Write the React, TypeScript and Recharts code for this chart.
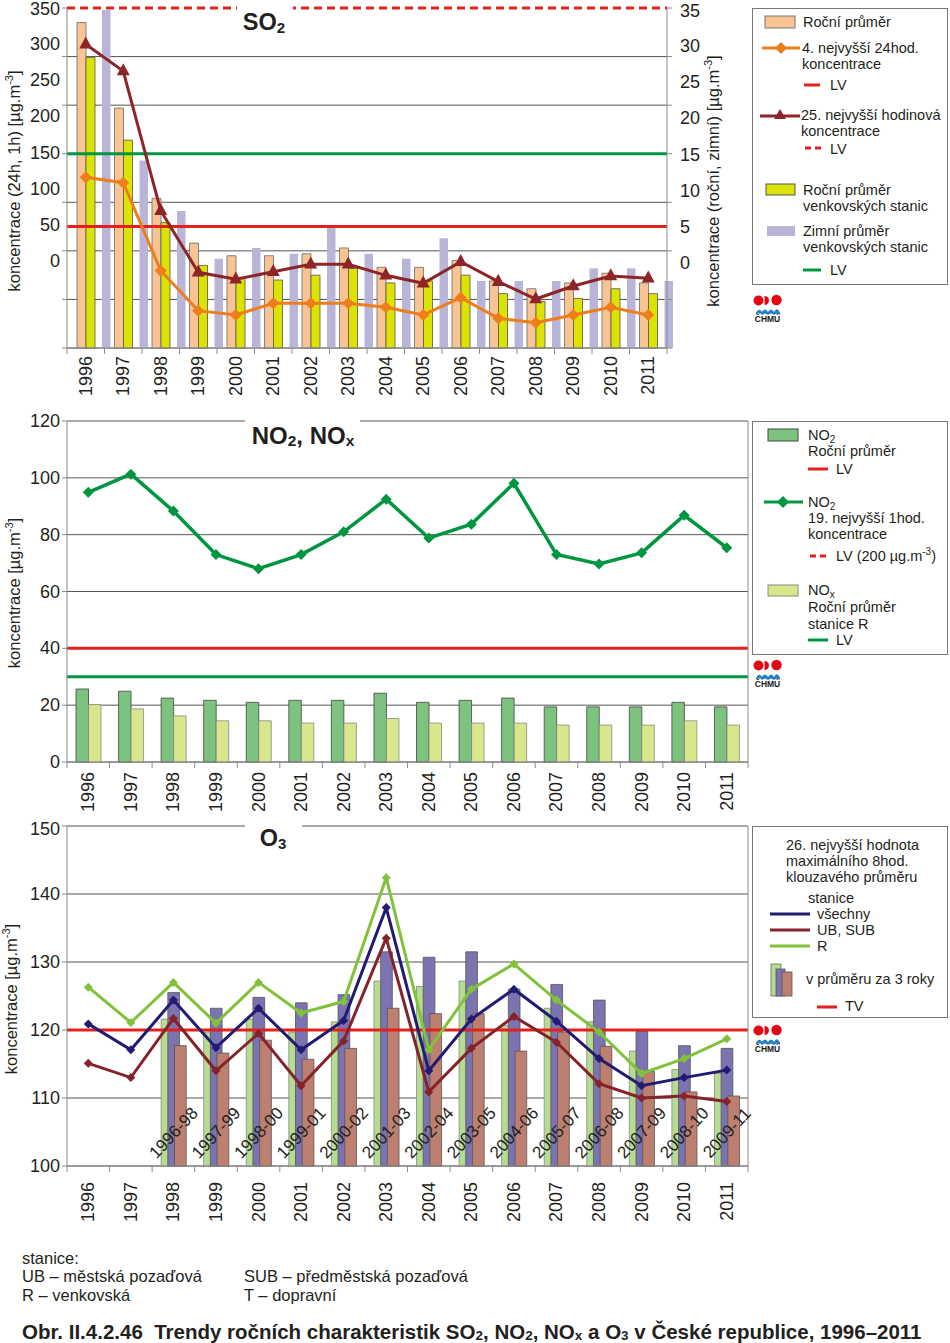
import React from "react";
import {
  ComposedChart,
  Bar,
  Line,
  XAxis,
  YAxis,
  CartesianGrid,
  ReferenceLine,
  LabelList,
} from "recharts";

// ---- data ----
const years = [
  "1996", "1997", "1998", "1999", "2000", "2001", "2002", "2003",
  "2004", "2005", "2006", "2007", "2008", "2009", "2010", "2011",
];

// SO2, right axis (annual / winter means)
const so2Annual = [33.5, 24.7, 15.4, 10.8, 9.5, 9.5, 9.7, 10.3, 8.3, 8.3, 9.0, 6.9, 6.1, 6.7, 7.7, 6.7];
const so2RuralAnnual = [29.9, 21.4, 12.9, 8.5, 7.2, 7.0, 7.5, 8.2, 6.7, 6.9, 7.5, 5.6, 4.8, 5.1, 6.1, 5.6];
const so2RuralWinter = [34.8, 19.3, 14.1, 9.2, 10.3, 9.7, 12.6, 9.7, 9.2, 11.3, 6.9, 6.9, 6.9, 8.2, 8.2, 6.9];
// SO2, left axis
const so2Max24h = [175.7, 170.2, 79.6, 38.4, 34.0, 46.0, 46.0, 46.0, 41.9, 34.0, 51.8, 30.6, 26.0, 34.0, 41.9, 34.0];
const so2Max1h = [312.6, 285.1, 141.3, 77.9, 70.7, 78.5, 86.2, 86.2, 74.8, 66.6, 88.8, 68.3, 50.4, 63.8, 74.1, 71.7];
const so2LeftTicks = [0, 50, 100, 150, 200, 250, 300, 350];
const so2RightTicks = [0, 5, 10, 15, 20, 25, 30, 35];

// NO2 / NOx
const no2Annual = [25.7, 24.9, 22.5, 21.7, 21.0, 21.7, 21.7, 24.2, 21.0, 21.7, 22.5, 19.4, 19.4, 19.4, 21.0, 19.4];
const noxRural = [20.2, 18.7, 16.2, 14.5, 14.5, 13.7, 13.7, 15.3, 13.7, 13.7, 13.7, 13.0, 13.0, 13.0, 14.5, 13.0];
const no2Max1h = [94.9, 101.3, 88.3, 73.0, 68.0, 73.0, 81.0, 92.5, 78.8, 83.7, 98.1, 73.0, 69.7, 73.6, 86.8, 75.4];
const no2Ticks = [0, 20, 40, 60, 80, 100, 120];

// O3
const o3All = [120.9, 117.1, 124.4, 117.4, 123.2, 117.1, 121.4, 138.0, 114.0, 121.6, 126.0, 121.3, 115.8, 111.8, 113.0, 114.1];
const o3Urban = [115.1, 113.0, 121.7, 114.0, 119.5, 111.8, 118.4, 133.5, 110.9, 117.3, 122.0, 118.2, 112.1, 110.0, 110.3, 109.5];
const o3Rural = [126.3, 121.1, 127.0, 121.0, 127.0, 122.5, 124.2, 142.4, 117.1, 126.0, 129.7, 124.4, 119.7, 113.6, 115.8, 118.7];
const o3Periods = [
  null, null, "1996-98", "1997-99", "1998-00", "1999-01", "2000-02", "2001-03",
  "2002-04", "2003-05", "2004-06", "2005-07", "2006-08", "2007-09", "2008-10", "2009-11",
];
const o3RuralAvg3 = [null, null, 121.6, 119.7, 121.6, 119.7, 121.2, 127.2, 126.4, 127.2, 120.7, 123.2, 121.2, 116.9, 114.2, 113.6];
const o3AllAvg3 = [null, null, 125.5, 123.2, 124.8, 124.0, 125.2, 131.5, 130.7, 131.5, 126.0, 126.7, 124.4, 119.8, 117.7, 117.3];
const o3UrbanAvg3 = [null, null, 117.7, 116.6, 118.5, 115.7, 117.3, 123.2, 122.4, 122.4, 116.9, 119.7, 117.6, 113.9, 110.9, 110.3];
const o3Ticks = [100, 110, 120, 130, 140, 150];

const so2Data = years.map((year, i) => ({
  year,
  annual: so2Annual[i],
  ruralAnnual: so2RuralAnnual[i],
  ruralWinter: so2RuralWinter[i],
  max24h: so2Max24h[i],
  max1h: so2Max1h[i],
}));
const no2Data = years.map((year, i) => ({
  year,
  no2: no2Annual[i],
  nox: noxRural[i],
  max1h: no2Max1h[i],
}));
const o3Data = years.map((year, i) => ({
  year,
  all: o3All[i],
  urban: o3Urban[i],
  rural: o3Rural[i],
  period: o3Periods[i],
  ruralAvg: o3RuralAvg3[i],
  allAvg: o3AllAvg3[i],
  urbanAvg: o3UrbanAvg3[i],
}));

// ---- styles ----
const FONT = '"Liberation Sans", Arial, Helvetica, sans-serif';
const INK = "#231f20";
const GRID = "#555";
const AXIS = "#8a8a8a";
const RED = "#e3211c";
const LVGREEN = "#009640";
const PEACH = "#f8c494";
const YELLOW = "#dce300";
const LAVENDER = "#b9b5d9";
const ORANGE = "#ee7d1b";
const DARKRED = "#8c2428";
const NO2GREEN = "#7dc37f";
const NOXLIGHT = "#d9e78c";
const O3GREEN = "#80c23a";
const O3BLUE = "#221b72";
const O3RED = "#85232a";
const O3BAR_G = "#b6dc8f";
const O3BAR_B = "#7b74b0";
const O3BAR_R = "#bd8070";

const SO2_BAND = 600 / 16;
const WIDE_BAND = 681 / 16;
const O3_BAR = 11.7;
const O3_GAP = -5;
// the printed SO2 labels sit on a squeezed copy of the axis
const SQUEEZE = 253 / 340;

function diamondDot(color: string, r: number) {
  return (p: any) => {
    const { cx, cy, index } = p;
    if (cx == null || cy == null || isNaN(cy)) return <g key={`d${index}`} />;
    return (
      <polygon
        key={`d${index}`}
        points={`${cx},${cy - r} ${cx + r},${cy} ${cx},${cy + r} ${cx - r},${cy}`}
        fill={color}
      />
    );
  };
}

function triangleDot(color: string, r: number) {
  return (p: any) => {
    const { cx, cy, index } = p;
    if (cx == null || cy == null) return <g key={`t${index}`} />;
    return (
      <polygon
        key={`t${index}`}
        points={`${cx},${cy - r * 1.2} ${cx + r},${cy + r * 0.65} ${cx - r},${cy + r * 0.65}`}
        fill={color}
      />
    );
  };
}

function SqueezedTick(props: any) {
  const { x, y, payload, textAnchor, top, shift, dx } = props;
  const ly = top + (y - top) * SQUEEZE + shift;
  return (
    <text x={x + dx} y={ly} textAnchor={textAnchor} dominantBaseline="central" fontSize={18} fill={INK} fontFamily={FONT}>
      {payload.value}
    </text>
  );
}

function PlainTick(props: any) {
  const { x, y, payload } = props;
  return (
    <text x={x} y={y} textAnchor="end" dominantBaseline="central" fontSize={18} fill={INK} fontFamily={FONT}>
      {payload.value}
    </text>
  );
}

function YearTick(props: any) {
  const { x, y, payload, index, band, gap } = props;
  const half = band / 2;
  return (
    <g>
      <line x1={x - half} x2={x - half} y1={y} y2={y + 6} stroke={AXIS} />
      {index === years.length - 1 && <line x1={x + half} x2={x + half} y1={y} y2={y + 6} stroke={AXIS} />}
      <text
        transform={`translate(${x},${y + gap}) rotate(-90)`}
        textAnchor="end"
        dominantBaseline="central"
        fontSize={18}
        fill={INK}
        fontFamily={FONT}
      >
        {payload.value}
      </text>
    </g>
  );
}

const periodLabel = (props: any) => {
  const { x, y, width, height, value } = props;
  if (!value || x == null || isNaN(height)) return null;
  // label centred on the middle bar of the group
  const cx = x + width / 2 - (O3_BAR + O3_GAP);
  const cy = y + height - 33;
  return (
    <text
      transform={`translate(${cx},${cy}) rotate(-47)`}
      textAnchor="middle"
      dominantBaseline="central"
      fontSize={17}
      fill={INK}
      fontFamily={FONT}
    >
      {value}
    </text>
  );
};

function So2Chart() {
  return (
    <ComposedChart width={750} height={410} data={so2Data} margin={{ top: 8, right: 0, bottom: 0, left: 0 }} barGap={0}>
      <CartesianGrid xAxisId="m" yAxisId="l" vertical={false} stroke={GRID} />
      <XAxis
        xAxisId="m"
        dataKey="year"
        height={62}
        interval={0}
        tickLine={false}
        tickSize={0}
        tickMargin={0}
        axisLine={{ stroke: AXIS }}
        tick={(p: any) => <YearTick {...p} band={SO2_BAND} gap={8} />}
      />
      <XAxis xAxisId="w" dataKey="year" hide padding={{ left: 20, right: -20 }} />
      <YAxis
        yAxisId="l"
        domain={[0, 350]}
        ticks={so2LeftTicks}
        width={67}
        tickSize={5}
        tickLine={{ stroke: AXIS }}
        axisLine={{ stroke: AXIS }}
        tick={(p: any) => <SqueezedTick {...p} top={8} shift={0} dx={0} />}
      />
      <YAxis
        yAxisId="r"
        orientation="right"
        domain={[0, 35]}
        ticks={so2RightTicks}
        width={83}
        tickSize={5}
        tickLine={{ stroke: AXIS }}
        axisLine={{ stroke: AXIS }}
        tick={(p: any) => <SqueezedTick {...p} top={8} shift={2} dx={6} />}
      />
      <Bar xAxisId="m" yAxisId="r" dataKey="annual" barSize={9} fill={PEACH} stroke="#6b6b6b" strokeWidth={0.8} isAnimationActive={false} />
      <Bar xAxisId="m" yAxisId="r" dataKey="ruralAnnual" barSize={9} fill={YELLOW} stroke="#555" strokeWidth={0.8} isAnimationActive={false} />
      <Bar xAxisId="w" yAxisId="r" dataKey="ruralWinter" barSize={8.5} fill={LAVENDER} isAnimationActive={false} />
      <ReferenceLine xAxisId="m" yAxisId="l" y={350} stroke="#fff" strokeWidth={3} />
      <ReferenceLine xAxisId="m" yAxisId="l" y={350} stroke={RED} strokeWidth={3} strokeDasharray="8 5" />
      <ReferenceLine xAxisId="m" yAxisId="l" y={125} stroke={RED} strokeWidth={3} />
      <ReferenceLine xAxisId="m" yAxisId="r" y={20} stroke={LVGREEN} strokeWidth={3} />
      <Line xAxisId="m" yAxisId="l" dataKey="max24h" stroke={ORANGE} strokeWidth={3} dot={diamondDot(ORANGE, 6)} activeDot={false} isAnimationActive={false} />
      <Line xAxisId="m" yAxisId="l" dataKey="max1h" stroke={DARKRED} strokeWidth={3} dot={triangleDot(DARKRED, 6.5)} activeDot={false} isAnimationActive={false} />
    </ComposedChart>
  );
}

function No2Chart() {
  return (
    <ComposedChart width={750} height={410} data={no2Data} margin={{ top: 11, right: 0, bottom: 0, left: 0 }} barGap={0}>
      <CartesianGrid xAxisId="m" yAxisId="l" vertical={false} stroke={GRID} />
      <XAxis
        xAxisId="m"
        dataKey="year"
        height={58}
        interval={0}
        tickLine={false}
        tickSize={0}
        tickMargin={0}
        axisLine={{ stroke: AXIS }}
        tick={(p: any) => <YearTick {...p} band={WIDE_BAND} gap={10} />}
      />
      <YAxis
        yAxisId="l"
        domain={[0, 120]}
        ticks={no2Ticks}
        width={67}
        tickSize={5}
        tickLine={{ stroke: AXIS }}
        axisLine={{ stroke: AXIS }}
        tick={(p: any) => <PlainTick {...p} />}
      />
      <YAxis yAxisId="r" orientation="right" domain={[0, 1]} width={2} tick={false} tickLine={false} axisLine={{ stroke: AXIS }} />
      <Bar xAxisId="m" yAxisId="l" dataKey="no2" barSize={12.5} fill={NO2GREEN} stroke="#444" strokeWidth={0.8} isAnimationActive={false} />
      <Bar xAxisId="m" yAxisId="l" dataKey="nox" barSize={12.5} fill={NOXLIGHT} stroke="#888" strokeWidth={0.8} isAnimationActive={false} />
      <ReferenceLine xAxisId="m" yAxisId="l" y={40} stroke={RED} strokeWidth={3} />
      <ReferenceLine xAxisId="m" yAxisId="l" y={30} stroke={LVGREEN} strokeWidth={3} />
      <Line xAxisId="m" yAxisId="l" dataKey="max1h" stroke={LVGREEN} strokeWidth={3.5} dot={diamondDot(LVGREEN, 5.5)} activeDot={false} isAnimationActive={false} />
    </ComposedChart>
  );
}

function O3Chart() {
  // 10px extra on the right so the last rotated period label is not clipped
  return (
    <ComposedChart width={760} height={406} data={o3Data} margin={{ top: 6, right: 10, bottom: 0, left: 0 }} barGap={O3_GAP}>
      <CartesianGrid xAxisId="m" yAxisId="l" vertical={false} stroke={GRID} />
      <XAxis
        xAxisId="m"
        dataKey="year"
        height={60}
        interval={0}
        tickLine={false}
        tickSize={0}
        tickMargin={0}
        axisLine={{ stroke: AXIS }}
        tick={(p: any) => <YearTick {...p} band={WIDE_BAND} gap={16} />}
      />
      <YAxis
        yAxisId="l"
        domain={[100, 150]}
        ticks={o3Ticks}
        width={67}
        tickSize={5}
        tickLine={{ stroke: AXIS }}
        axisLine={{ stroke: AXIS }}
        tick={(p: any) => <PlainTick {...p} />}
      />
      <YAxis yAxisId="r" orientation="right" domain={[0, 1]} width={2} tick={false} tickLine={false} axisLine={{ stroke: AXIS }} />
      <Bar xAxisId="m" yAxisId="l" dataKey="ruralAvg" barSize={O3_BAR} fill={O3BAR_G} stroke="#888" strokeWidth={0.8} isAnimationActive={false} />
      <Bar xAxisId="m" yAxisId="l" dataKey="allAvg" barSize={O3_BAR} fill={O3BAR_B} stroke="#555" strokeWidth={0.8} isAnimationActive={false} />
      <Bar xAxisId="m" yAxisId="l" dataKey="urbanAvg" barSize={O3_BAR} fill={O3BAR_R} stroke="#555" strokeWidth={0.8} isAnimationActive={false}>
        <LabelList dataKey="period" content={periodLabel} />
      </Bar>
      <ReferenceLine xAxisId="m" yAxisId="l" y={120} stroke={RED} strokeWidth={3} />
      <Line xAxisId="m" yAxisId="l" dataKey="rural" stroke={O3GREEN} strokeWidth={3} dot={diamondDot(O3GREEN, 4.5)} activeDot={false} isAnimationActive={false} />
      <Line xAxisId="m" yAxisId="l" dataKey="all" stroke={O3BLUE} strokeWidth={3} dot={diamondDot(O3BLUE, 4.5)} activeDot={false} isAnimationActive={false} />
      <Line xAxisId="m" yAxisId="l" dataKey="urban" stroke={O3RED} strokeWidth={3} dot={diamondDot(O3RED, 4.5)} activeDot={false} isAnimationActive={false} />
    </ComposedChart>
  );
}

function Txt({ x, y, size = 14.5, bold = false, children, ...rest }: any) {
  return (
    <text x={x} y={y} fontSize={size} fontWeight={bold ? "bold" : "normal"} dominantBaseline="central" fill={INK} fontFamily={FONT} {...rest}>
      {children}
    </text>
  );
}

function Sub({ children, size = 10, d = 4 }: any) {
  return (
    <tspan dy={d} fontSize={size}>
      {children}
    </tspan>
  );
}

function Logo({ x, y }: { x: number; y: number }) {
  return (
    <g transform={`translate(${x},${y})`}>
      <circle cx={5.5} cy={6.5} r={5} fill="#e30613" />
      <path d="M11.5,2 a4.5,4.5 0 0 1 0,9 z" fill="#e30613" />
      <circle cx={23.5} cy={6} r={5.2} fill="#e30613" />
      <path d="M3,19 q3,-6 6,-1 q3,-5 6,0 q3,-5 6,0 q3,-6 6,1 l0,2 q-3,-3 -6,0 q-3,-3 -6,0 q-3,-3 -6,0 q-3,-4 -6,0 z" fill="#1f7fc2" />
      <text x={14.5} y={28} textAnchor="middle" fontSize={8.5} fontWeight="bold" fill="#1a1a1a" fontFamily={FONT}>
        ČHMÚ
      </text>
    </g>
  );
}

function AxisTitle({ cx, cy, children }: any) {
  return (
    <Txt x={0} y={0} size={16.5} textAnchor="middle" transform={`translate(${cx},${cy}) rotate(-90)`}>
      {children}
      <tspan dy={-5} fontSize={11}>-3</tspan>
      <tspan dy={5}>]</tspan>
    </Txt>
  );
}

function Overlay() {
  return (
    <svg width={950} height={1343} style={{ position: "absolute", left: 0, top: 0, pointerEvents: "none" }}>
      {/* chart titles */}
      <rect x={237} y={0} width={56} height={34} fill="#fff" />
      <Txt x={264} y={22} size={23.5} bold textAnchor="middle">
        SO<Sub size={15} d={5}>2</Sub>
      </Txt>
      <rect x={245} y={413} width={115} height={36} fill="#fff" />
      <Txt x={303} y={435} size={24} bold textAnchor="middle">
        NO<Sub size={15.5} d={5}>2</Sub>
        <tspan dy={-5}>, NO</tspan>
        <Sub size={15.5} d={5}>x</Sub>
      </Txt>
      <rect x={245} y={818} width={57} height={34} fill="#fff" />
      <Txt x={273} y={838} size={23.5} bold textAnchor="middle">
        O<Sub size={15} d={5}>3</Sub>
      </Txt>

      {/* axis titles */}
      <AxisTitle cx={14} cy={181}>koncentrace (24h, 1h) [µg.m</AxisTitle>
      <AxisTitle cx={713} cy={181}>koncentrace (roční, zimní) [µg.m</AxisTitle>
      <AxisTitle cx={14} cy={593}>koncentrace [µg.m</AxisTitle>
      <AxisTitle cx={11} cy={999}>koncentrace [µg.m</AxisTitle>

      {/* SO2 legend */}
      <rect x={752.5} y={8.5} width={195} height={276} fill="#fff" stroke="#777" />
      <rect x={765} y={16} width={30} height={12} fill={PEACH} stroke="#777" />
      <Txt x={803} y={22}>Roční průměr</Txt>
      <line x1={762} x2={800} y1={48} y2={48} stroke={ORANGE} strokeWidth={3} />
      <polygon points="781,42 787,48 781,54 775,48" fill={ORANGE} />
      <Txt x={802} y={48}>4. nejvyšší 24hod.</Txt>
      <Txt x={802} y={64}>koncentrace</Txt>
      <line x1={804} x2={820} y1={85} y2={85} stroke={RED} strokeWidth={3} />
      <Txt x={830} y={85}>LV</Txt>
      <line x1={760} x2={800} y1={116} y2={116} stroke={DARKRED} strokeWidth={3} />
      <polygon points="780,109 786,119 774,119" fill={DARKRED} />
      <Txt x={801} y={115}>25. nejvyšší hodinová</Txt>
      <Txt x={801} y={131}>koncentrace</Txt>
      <line x1={805} x2={821} y1={148} y2={148} stroke={RED} strokeWidth={3} strokeDasharray="6 4" />
      <Txt x={830} y={149}>LV</Txt>
      <rect x={766} y={184} width={29} height={11} fill={YELLOW} stroke="#555" />
      <Txt x={803} y={190}>Roční průměr</Txt>
      <Txt x={803} y={206}>venkovských stanic</Txt>
      <rect x={767} y={226} width={28} height={10} fill={LAVENDER} />
      <Txt x={803} y={231}>Zimní průměr</Txt>
      <Txt x={803} y={247}>venkovských stanic</Txt>
      <line x1={803} x2={821} y1={270} y2={270} stroke={LVGREEN} strokeWidth={3} />
      <Txt x={830} y={270}>LV</Txt>
      <Logo x={753} y={294} />

      {/* NO2 legend */}
      <rect x={752.5} y={421.5} width={195} height={233} fill="#fff" stroke="#777" />
      <rect x={768} y={429} width={30} height={12} fill={NO2GREEN} stroke="#444" />
      <Txt x={808} y={435}>
        NO<Sub>2</Sub>
      </Txt>
      <Txt x={808} y={451}>Roční průměr</Txt>
      <line x1={808} x2={828} y1={469} y2={469} stroke={RED} strokeWidth={3} />
      <Txt x={836} y={469}>LV</Txt>
      <line x1={764} x2={803} y1={502} y2={502} stroke={LVGREEN} strokeWidth={3} />
      <polygon points="783,496 789,502 783,508 777,502" fill={LVGREEN} />
      <Txt x={808} y={502}>
        NO<Sub>2</Sub>
      </Txt>
      <Txt x={808} y={518}>19. nejvyšší 1hod.</Txt>
      <Txt x={808} y={534}>koncentrace</Txt>
      <line x1={810} x2={827} y1={556} y2={556} stroke={RED} strokeWidth={3} strokeDasharray="6 4" />
      <Txt x={836} y={556}>
        LV (200 µg.m<tspan dy={-5} fontSize={10}>-3</tspan>
        <tspan dy={5}>)</tspan>
      </Txt>
      <rect x={768} y={585} width={30} height={11} fill={NOXLIGHT} stroke="#888" />
      <Txt x={808} y={590}>
        NO<Sub>x</Sub>
      </Txt>
      <Txt x={808} y={607}>Roční průměr</Txt>
      <Txt x={808} y={624}>stanice R</Txt>
      <line x1={808} x2={828} y1={640} y2={640} stroke={LVGREEN} strokeWidth={3} />
      <Txt x={836} y={640}>LV</Txt>
      <Logo x={753} y={659} />

      {/* O3 legend */}
      <rect x={752.5} y={826.5} width={195} height={191} fill="#fff" stroke="#777" />
      <Txt x={786} y={845}>26. nejvyšší hodnota</Txt>
      <Txt x={786} y={861}>maximálního 8hod.</Txt>
      <Txt x={786} y={877}>klouzavého průměru</Txt>
      <Txt x={808} y={898}>stanice</Txt>
      <line x1={770} x2={810} y1={914} y2={914} stroke={O3BLUE} strokeWidth={3} />
      <Txt x={817} y={914}>všechny</Txt>
      <line x1={770} x2={810} y1={930} y2={930} stroke={O3RED} strokeWidth={3} />
      <Txt x={817} y={930}>UB, SUB</Txt>
      <line x1={770} x2={810} y1={946} y2={946} stroke={O3GREEN} strokeWidth={3} />
      <Txt x={817} y={946}>R</Txt>
      <rect x={771} y={964} width={10} height={32} fill={O3BAR_G} stroke="#666" strokeWidth={0.8} />
      <rect x={776} y={969} width={9} height={27} fill={O3BAR_B} stroke="#555" strokeWidth={0.8} />
      <rect x={782} y={972} width={10} height={24} fill={O3BAR_R} stroke="#555" strokeWidth={0.8} />
      <Txt x={806} y={979}>v průměru za 3 roky</Txt>
      <line x1={817} x2={837} y1={1007} y2={1007} stroke={RED} strokeWidth={3} />
      <Txt x={845} y={1006}>TV</Txt>
      <Logo x={753} y={1024} />

      {/* footer */}
      <Txt x={22} y={1258} size={16.5}>stanice:</Txt>
      <Txt x={22} y={1276} size={16.5}>UB – městská pozaďová</Txt>
      <Txt x={22} y={1295} size={16.5}>R – venkovská</Txt>
      <Txt x={244} y={1276} size={16.5}>SUB – předměstská pozaďová</Txt>
      <Txt x={244} y={1295} size={16.5}>T – dopravní</Txt>
      <Txt x={22} y={1331} size={20.5} bold>
        {"Obr. II.4.2.46\u00a0\u00a0Trendy ročních charakteristik SO"}
        <Sub size={13.5} d={4}>2</Sub>
        <tspan dy={-4}>, NO</tspan>
        <Sub size={13.5} d={4}>2</Sub>
        <tspan dy={-4}>, NO</tspan>
        <Sub size={13.5} d={4}>x</Sub>
        <tspan dy={-4}> a O</tspan>
        <Sub size={13.5} d={4}>3</Sub>
        <tspan dy={-4}> v České republice, 1996–2011</tspan>
      </Txt>
    </svg>
  );
}

export default function App() {
  return (
    <div style={{ position: "absolute", left: 0, top: 0, width: 950, height: 1343, background: "#fff", fontFamily: FONT }}>
      <div style={{ position: "absolute", left: 0, top: 0 }}>
        <So2Chart />
      </div>
      <div style={{ position: "absolute", left: 0, top: 410 }}>
        <No2Chart />
      </div>
      <div style={{ position: "absolute", left: 0, top: 820 }}>
        <O3Chart />
      </div>
      <Overlay />
    </div>
  );
}
